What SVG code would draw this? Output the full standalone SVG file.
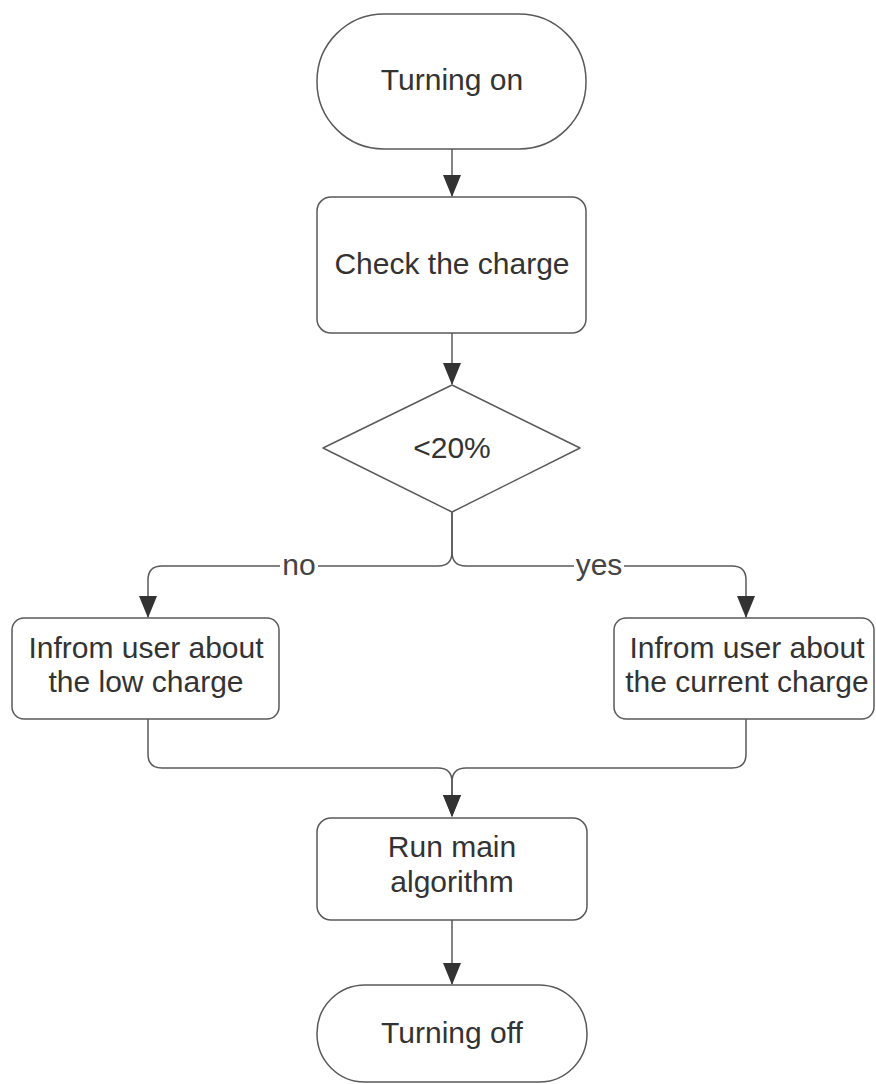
<svg xmlns="http://www.w3.org/2000/svg" width="876" height="1084" viewBox="0 0 876 1084">
<style>
.shape{fill:#fff;stroke:#5a5a5a;stroke-width:1.5}
.conn{fill:none;stroke:#5a5a5a;stroke-width:1.5}
.t{font-family:"Liberation Sans",Arial,sans-serif;font-size:30px;fill:#333;text-anchor:middle}
.lbl{font-family:"Liberation Sans",Arial,sans-serif;font-size:30px;fill:#444;text-anchor:middle}
</style>
<defs>
<marker id="arr" markerWidth="22" markerHeight="18" refX="21" refY="9" orient="auto" markerUnits="userSpaceOnUse" viewBox="0 0 22 18">
<path d="M0,0 L22,9 L0,18 Z" fill="#333"/>
</marker>
</defs>
<rect width="876" height="1084" fill="#fff"/>
<g id="connectors">
<path class="conn" d="M452,149 V196" marker-end="url(#arr)"/>
<path class="conn" d="M452,333 V384" marker-end="url(#arr)"/>
<path class="conn" d="M452,512 V552 Q452,566 438,566 H162 Q148,566 148,580 V617" marker-end="url(#arr)"/>
<path class="conn" d="M452,512 V552 Q452,566 466,566 H732 Q746,566 746,580 V617" marker-end="url(#arr)"/>
<path class="conn" d="M148,719 V754 Q148,768 162,768 H438 Q452,768 452,782 V816" marker-end="url(#arr)"/>
<path class="conn" d="M746,719 V754 Q746,768 732,768 H466 Q452,768 452,782 V816" marker-end="url(#arr)"/>
<path class="conn" d="M452,920 V984" marker-end="url(#arr)"/>
<rect x="280" y="550" width="38" height="30" fill="#fff"/>
<text class="lbl" x="299" y="575">no</text>
<rect x="574" y="550" width="50" height="30" fill="#fff"/>
<text class="lbl" x="599" y="575">yes</text>
</g>
<g id="turning-on">
<rect class="shape" x="317" y="14" width="269" height="135" rx="67" ry="67"/>
<text class="t" x="452" y="90">Turning on</text>
</g>
<g id="check-charge">
<rect class="shape" x="317" y="197" width="269" height="136" rx="14" ry="14"/>
<text class="t" x="452" y="274">Check the charge</text>
</g>
<g id="decision">
<polygon class="shape" stroke-linejoin="round" points="452,385 580,448 452,512 323,448"/>
<text class="t" x="452" y="458">&lt;20%</text>
</g>
<g id="low-charge">
<rect class="shape" x="12" y="618" width="267" height="101" rx="12" ry="12"/>
<text class="t" x="146" y="658">Infrom user about</text>
<text class="t" x="146" y="692">the low charge</text>
</g>
<g id="current-charge">
<rect class="shape" x="614" y="618" width="260" height="101" rx="12" ry="12"/>
<text class="t" x="747" y="658">Infrom user about</text>
<text class="t" x="747" y="692">the current charge</text>
</g>
<g id="run-main">
<rect class="shape" x="317" y="818" width="270" height="102" rx="14" ry="14"/>
<text class="t" x="452" y="857">Run main</text>
<text class="t" x="452" y="892">algorithm</text>
</g>
<g id="turning-off">
<rect class="shape" x="317" y="985" width="270" height="97" rx="48" ry="48"/>
<text class="t" x="452" y="1043">Turning off</text>
</g>
</svg>
